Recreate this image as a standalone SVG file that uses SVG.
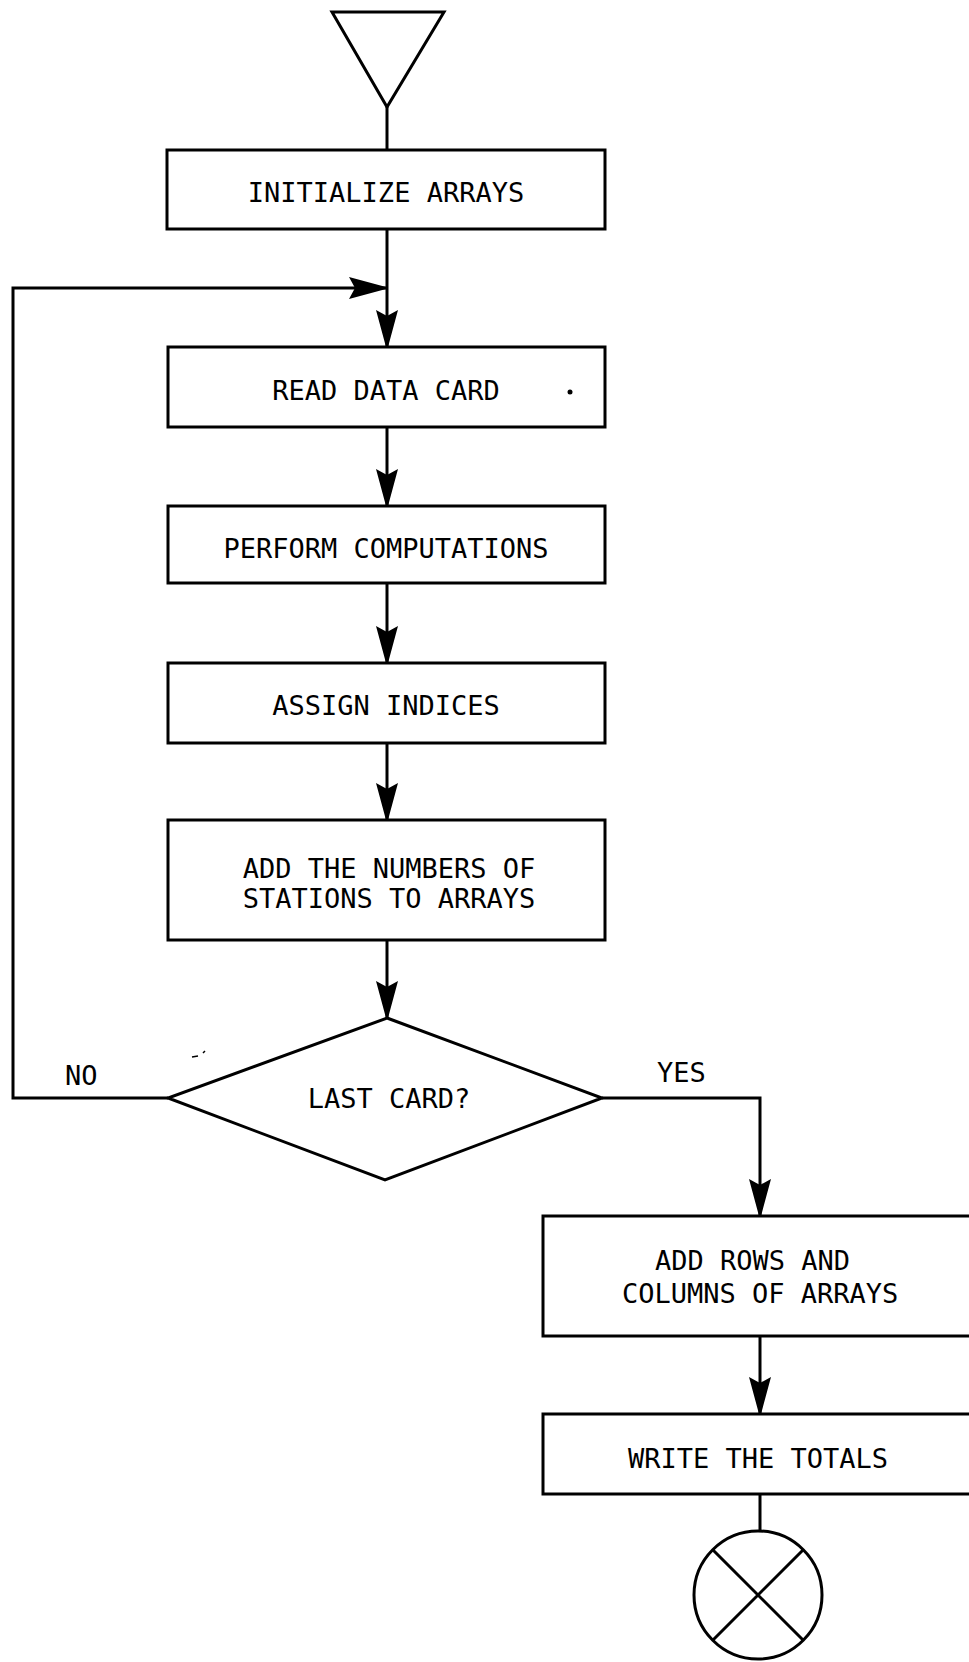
<svg xmlns="http://www.w3.org/2000/svg" width="969" height="1662" viewBox="0 0 969 1662">
<style>
.box{fill:#fff;stroke:#000;stroke-width:3}
.shape{fill:#fff;stroke:#000;stroke-width:3;stroke-linejoin:miter}
.ln{fill:none;stroke:#000;stroke-width:3}
.t{font-family:"DejaVu Sans Mono","Liberation Mono",monospace;font-size:27px;fill:#000}
.c{text-anchor:middle}
</style>
<defs>
<marker id="ah" markerUnits="userSpaceOnUse" viewBox="0 -12 38 24" refX="37" refY="0" markerWidth="38" markerHeight="24" orient="auto">
<path d="M0,-11 L6,0 L0,11 L37,1 L37,-1 Z" fill="#000"/>
</marker>
</defs>
<rect width="969" height="1662" fill="#fff"/>
<g id="connectors">
<path class="ln" d="M387,107 L387,150"/>
<path class="ln" d="M387,229 L387,347" marker-end="url(#ah)"/>
<path class="ln" d="M168,1098 L13,1098 L13,288 L386,288" marker-end="url(#ah)"/>
<path class="ln" d="M387,427 L387,506" marker-end="url(#ah)"/>
<path class="ln" d="M387,583 L387,663" marker-end="url(#ah)"/>
<path class="ln" d="M387,743 L387,820" marker-end="url(#ah)"/>
<path class="ln" d="M387,940 L387,1018" marker-end="url(#ah)"/>
<path class="ln" d="M602,1098 L760,1098 L760,1216" marker-end="url(#ah)"/>
<path class="ln" d="M760,1336 L760,1414" marker-end="url(#ah)"/>
<path class="ln" d="M760,1494 L760,1530"/>
<text class="t" x="65" y="1085">NO</text>
<text class="t" x="657" y="1082">YES</text>
</g>
<g id="start">
<path class="shape" d="M332,12 L444,12 L387,107 Z"/>
</g>
<g id="init">
<rect class="box" x="167" y="150" width="438" height="79"/>
<text class="t c" x="386" y="202">INITIALIZE ARRAYS</text>
</g>
<g id="read">
<rect class="box" x="168" y="347" width="437" height="80"/>
<text class="t c" x="386" y="400">READ DATA CARD</text>
<circle cx="570" cy="392" r="2.5" fill="#000"/>
</g>
<g id="perform">
<rect class="box" x="168" y="506" width="437" height="77"/>
<text class="t c" x="386" y="558">PERFORM COMPUTATIONS</text>
</g>
<g id="assign">
<rect class="box" x="168" y="663" width="437" height="80"/>
<text class="t c" x="386" y="715">ASSIGN INDICES</text>
</g>
<g id="addnum">
<rect class="box" x="168" y="820" width="437" height="120"/>
<text class="t c" x="389" y="878">ADD THE NUMBERS OF</text>
<text class="t c" x="389" y="908">STATIONS TO ARRAYS</text>
</g>
<g id="lastcard">
<path class="shape" d="M387,1018 L602,1098 L385,1180 L168,1098 Z"/>
<text class="t c" x="389" y="1108">LAST CARD?</text>
<path d="M192,1057 L198,1056 M203,1053 L205,1051" stroke="#000" stroke-width="1.5" fill="none"/>
</g>
<g id="addrows">
<rect class="box" x="543" y="1216" width="440" height="120"/>
<text class="t" x="655" y="1270">ADD ROWS AND</text>
<text class="t" x="622" y="1303">COLUMNS OF ARRAYS</text>
</g>
<g id="write">
<rect class="box" x="543" y="1414" width="440" height="80"/>
<text class="t c" x="758" y="1468">WRITE THE TOTALS</text>
</g>
<g id="end">
<circle class="shape" cx="758" cy="1595" r="64"/>
<path class="ln" d="M713,1550 L803,1640 M803,1550 L713,1640"/>
</g>
</svg>
